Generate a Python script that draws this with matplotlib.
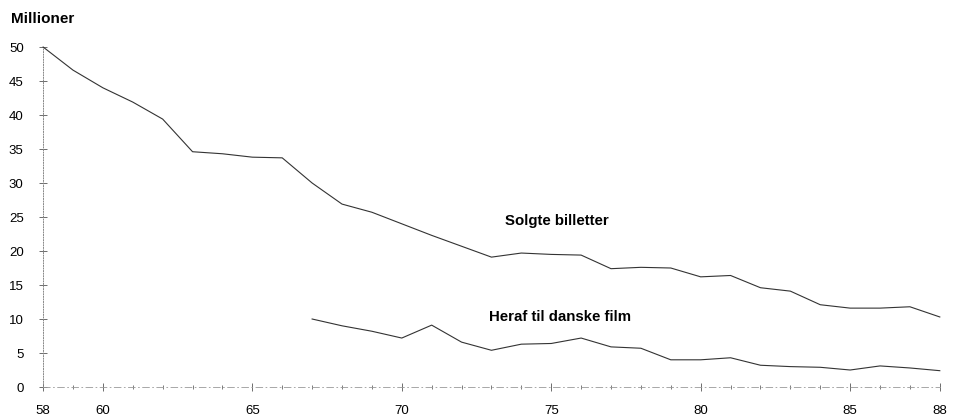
import matplotlib.pyplot as plt
import numpy as np

plt.rcParams['font.family'] = ['Liberation Sans', 'DejaVu Sans']

# data (millioner)
years_total = list(range(58, 89))
solgte = [50.0, 46.6, 44.0, 41.9, 39.4, 34.6, 34.3, 33.8, 33.7, 30.0,
          26.9, 25.7, 24.0, 22.3, 20.7, 19.1, 19.7, 19.5, 19.4, 17.4,
          17.6, 17.5, 16.2, 16.4, 14.6, 14.1, 12.1, 11.6, 11.6, 11.8, 10.3]
years_dansk = list(range(67, 89))
dansk = [10.0, 9.0, 8.2, 7.2, 9.1, 6.6, 5.4, 6.3, 6.4, 7.2, 5.9,
         5.7, 4.0, 4.0, 4.3, 3.2, 3.0, 2.9, 2.5, 3.1, 2.8, 2.4]
xticks = [58, 60, 65, 70, 75, 80, 85, 88]
yticks = [0, 5, 10, 15, 20, 25, 30, 35, 40, 45, 50]

fig = plt.figure(figsize=(9.58, 4.16), dpi=100)
ax = fig.add_axes([0.045, 0.0697, 0.936, 0.8173])

ax.plot(years_total, solgte, color='#333333', lw=0.8, clip_on=False)
ax.plot(years_dansk, dansk, color='#333333', lw=0.8, clip_on=False)

ax.set_xlim(58, 88)
ax.set_ylim(0, 50)
ax.set_xticks(xticks)
ax.set_xticks(range(58, 89), minor=True)
ax.set_yticks(yticks)

for s in ['top', 'right']:
    ax.spines[s].set_visible(False)
ax.spines['left'].set_linestyle(':')
ax.spines['left'].set_color('#888888')
ax.spines['left'].set_linewidth(0.7)
ax.spines['bottom'].set_linestyle((0, (8, 4, 1, 4)))
ax.spines['bottom'].set_color('#999999')
ax.spines['bottom'].set_linewidth(0.6)

ax.tick_params(axis='y', direction='inout', length=6, width=0.6, color='#555555',
               pad=11, labelsize=9.5)
ax.tick_params(axis='x', which='major', direction='inout', length=6, width=0.6,
               color='#555555', pad=10, labelsize=9.5)
ax.tick_params(axis='x', which='minor', direction='inout', length=3, width=0.6,
               color='#666666')

fig.text(0.011, 0.955, 'Millioner', fontsize=11, fontweight='bold', va='center', ha='left')
ax.text(75.2, 24.4, 'Solgte billetter', fontsize=10.8, fontweight='bold', ha='center', va='center')
ax.text(75.3, 10.3, 'Heraf til danske film', fontsize=10.8, fontweight='bold', ha='center', va='center')

fig.savefig('out.png', dpi=100)
